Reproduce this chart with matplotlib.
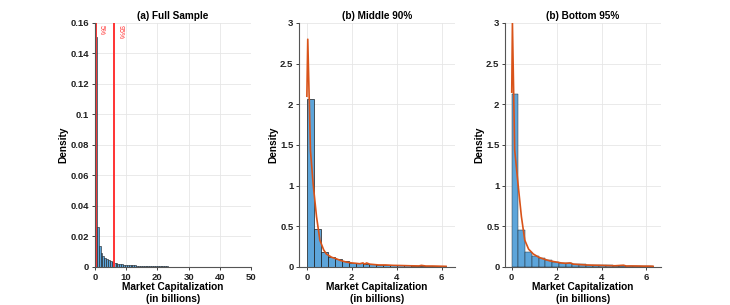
import matplotlib
matplotlib.use('Agg')
import matplotlib.pyplot as plt
from matplotlib.ticker import FuncFormatter

plt.rcParams['font.family'] = ['Liberation Sans', 'DejaVu Sans']
plt.rcParams['font.weight'] = 'bold'
plt.rcParams['axes.labelweight'] = 'bold'
plt.rcParams['axes.titleweight'] = 'bold'
plt.rcParams['font.size'] = 6.8

# (a) full sample histogram, bin width 0.6
full_width = 0.6
full_heights = [0.151, 0.026, 0.0135, 0.0095, 0.0075, 0.006, 0.005, 0.0043, 0.0037, 0.0032,
                0.0028, 0.0025, 0.0022, 0.002, 0.0018, 0.0016, 0.0015, 0.0014, 0.0013, 0.0012,
                0.0011, 0.001, 0.00095, 0.0009, 0.00085, 0.0008, 0.00075, 0.0007, 0.00065, 0.0006,
                0.00055, 0.0005, 0.00048, 0.00045, 0.00042, 0.0004, 0.00038, 0.00035, 0.00033, 0.0003,
                0.00028, 0.00026, 0.00025, 0.00024, 0.00022, 0.0002, 0.0002, 0.00018, 0.00017, 0.00016,
                0.00015, 0.00014, 0.00013, 0.00012, 0.00011, 0.0001, 0.0001, 0.00009, 0.00008, 0.00008]
p5 = 0.2
p95 = 6.2

# (b) middle 90%
mid_width = 0.31
mid_heights = [2.06, 0.47, 0.19, 0.125, 0.10, 0.075, 0.055, 0.047, 0.04, 0.035,
               0.03, 0.027, 0.024, 0.021, 0.019, 0.017, 0.015, 0.013, 0.012, 0.01]
mid_kde_x = [0.0, 0.04, 0.16, 0.28, 0.43, 0.58, 0.75, 0.87, 1.1, 1.32, 1.5, 1.76, 2.0, 2.2, 2.36,
             2.5, 2.58, 2.66, 2.8, 3.0, 3.2, 3.5, 3.84, 4.2, 4.6, 5.0, 5.1, 5.3, 5.6, 5.9, 6.2]
mid_kde_y = [2.1, 2.8, 1.43, 1.02, 0.62, 0.33, 0.21, 0.16, 0.12, 0.10, 0.08, 0.06, 0.05, 0.045, 0.04,
             0.05, 0.035, 0.05, 0.035, 0.03, 0.025, 0.025, 0.02, 0.018, 0.015, 0.013, 0.02, 0.012, 0.012, 0.01, 0.008]

# (c) bottom 95%
bot_width = 0.3
bot_heights = [2.13, 0.45, 0.18, 0.13, 0.11, 0.08, 0.065, 0.055, 0.045, 0.04, 0.035,
               0.03, 0.025, 0.022, 0.02, 0.018, 0.016, 0.014, 0.012, 0.011, 0.01]
bot_kde_x = [0.0, 0.03, 0.13, 0.28, 0.43, 0.58, 0.75, 0.96, 1.2, 1.4, 1.7, 2.0, 2.2, 2.4, 2.6,
             2.75, 3.0, 3.3, 3.6, 3.94, 4.3, 4.6, 4.98, 5.1, 5.3, 5.6, 5.9, 6.17, 6.3]
bot_kde_y = [2.15, 3.0, 1.44, 1.02, 0.62, 0.33, 0.22, 0.16, 0.12, 0.10, 0.075, 0.06, 0.05, 0.045, 0.05,
             0.035, 0.03, 0.025, 0.022, 0.02, 0.017, 0.015, 0.022, 0.012, 0.013, 0.012, 0.01, 0.01, 0.008]

bar_color = '#5DA5DA'
kde_color = '#D95319'
grid_color = '#e6e6e6'


def style_axes(ax):
    for s in ['top', 'right']:
        ax.spines[s].set_visible(False)
    for s in ['left', 'bottom']:
        ax.spines[s].set_color('#555555')
        ax.spines[s].set_linewidth(0.8)
    ax.tick_params(direction='out', length=2, width=0.6, colors='#222222', pad=2)
    ax.grid(True, color=grid_color, linewidth=0.6)
    ax.set_axisbelow(True)
    ax.yaxis.set_major_formatter(FuncFormatter(lambda v, p: '%g' % v))
    ax.set_xlabel('Market Capitalization\n(in billions)', labelpad=0, fontsize=7.3, linespacing=1.35)
    ax.set_ylabel('Density', labelpad=1.5, fontsize=7.3)


fig = plt.figure(figsize=(7.3, 3.05), dpi=100)

ax1 = fig.add_axes([0.130, 0.1246, 0.214, 0.80])
left_a = [i * full_width for i in range(len(full_heights))]
ax1.bar(left_a, full_heights, width=full_width, align='edge', color=bar_color,
        edgecolor='#1a1a1a', linewidth=0.4)
ax1.axvline(p5, color='#FF3333', linewidth=1.4)
ax1.axvline(p95, color='#FF3333', linewidth=1.4)
ax1.text(p5 + 0.8, 0.1585, '5%', color='#FF3333', fontsize=5, fontweight='normal',
         rotation=-90, va='top', ha='left')
ax1.text(p95 + 0.8, 0.1585, '95%', color='#FF3333', fontsize=5, fontweight='normal',
         rotation=-90, va='top', ha='left')
ax1.set_xlim(0, 50)
ax1.set_ylim(0, 0.16)
ax1.set_xticks([0, 10, 20, 30, 40, 50])
ax1.set_yticks([0, 0.02, 0.04, 0.06, 0.08, 0.1, 0.12, 0.14, 0.16])
style_axes(ax1)
ax1.set_title('(a) Full Sample', fontsize=7.2, pad=3)

ax2 = fig.add_axes([0.4096, 0.1246, 0.2137, 0.80])
left_b = [i * mid_width for i in range(len(mid_heights))]
ax2.bar(left_b, mid_heights, width=mid_width, align='edge', color=bar_color,
        edgecolor='#1a1a1a', linewidth=0.5)
ax2.plot(mid_kde_x, mid_kde_y, color=kde_color, linewidth=1.2)
ax2.set_xlim(-0.35, 6.6)
ax2.set_ylim(0, 3)
ax2.set_xticks([0, 2, 4, 6])
ax2.set_yticks([0, 0.5, 1, 1.5, 2, 2.5, 3])
style_axes(ax2)
ax2.set_title('(b) Middle 90%', fontsize=7.2, pad=3)

ax3 = fig.add_axes([0.6918, 0.1246, 0.2137, 0.80])
left_c = [i * bot_width for i in range(len(bot_heights))]
ax3.bar(left_c, bot_heights, width=bot_width, align='edge', color=bar_color,
        edgecolor='#1a1a1a', linewidth=0.3)
ax3.plot(bot_kde_x, bot_kde_y, color=kde_color, linewidth=1.2)
ax3.set_xlim(-0.3, 6.65)
ax3.set_ylim(0, 3)
ax3.set_xticks([0, 2, 4, 6])
ax3.set_yticks([0, 0.5, 1, 1.5, 2, 2.5, 3])
style_axes(ax3)
ax3.set_title('(b) Bottom 95%', fontsize=7.2, pad=3)

plt.savefig('out.png', dpi=100)
plt.close()
